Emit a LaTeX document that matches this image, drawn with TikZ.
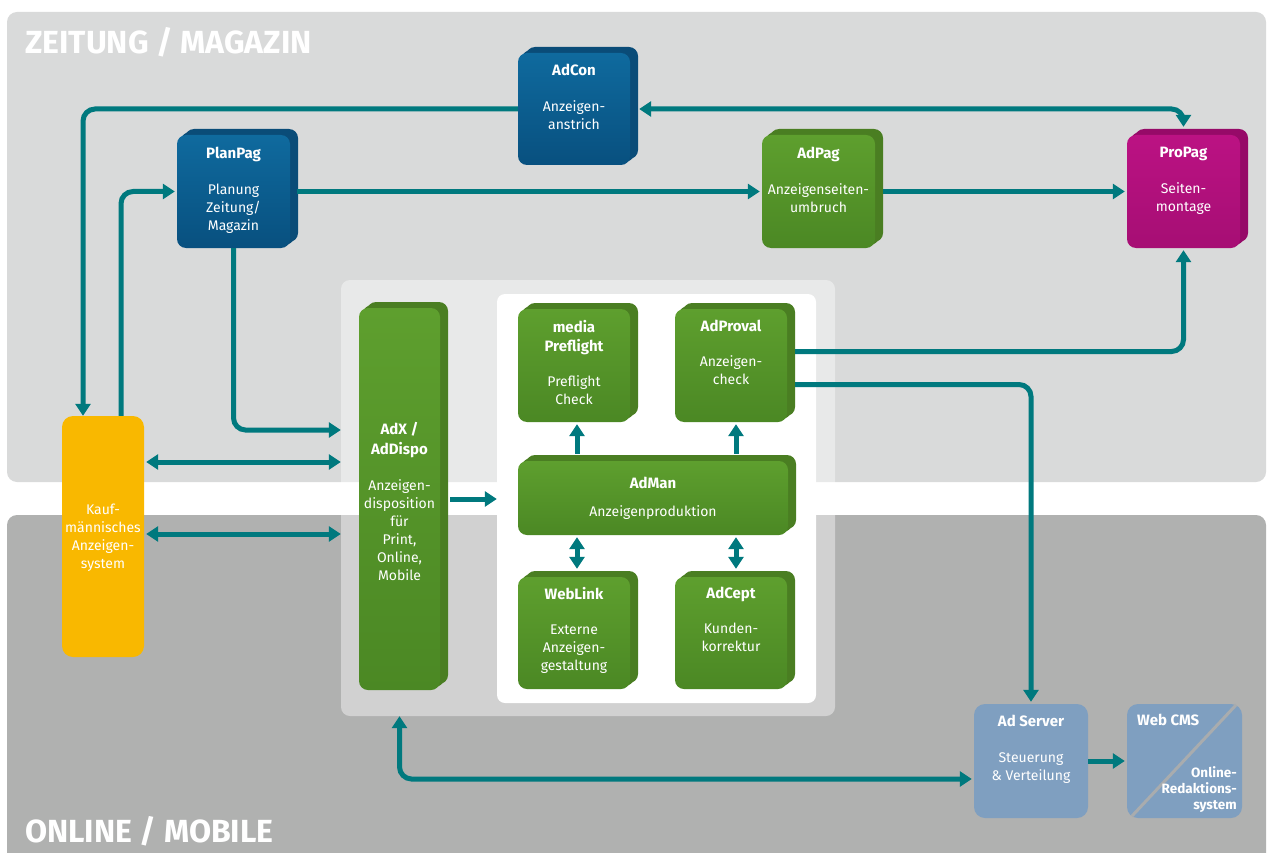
\documentclass[tikz,border=0pt]{standalone}
\usepackage{fontspec}
\setmainfont{Fira Sans}
\usetikzlibrary{arrows.meta,shadows}
\definecolor{conncol}{HTML}{00797E}
\definecolor{bgtop}{HTML}{D9DADA}
\definecolor{bgbot}{HTML}{B0B1B0}
\definecolor{bluetop}{HTML}{0F6A9E}
\definecolor{bluebot}{HTML}{08507F}
\definecolor{blueback}{HTML}{0A4C78}
\definecolor{greentop}{HTML}{5E9F2E}
\definecolor{greenbot}{HTML}{4B8824}
\definecolor{greenback}{HTML}{4A7E22}
\definecolor{magtop}{HTML}{BB1283}
\definecolor{magbot}{HTML}{A60E74}
\definecolor{magback}{HTML}{960A68}
\definecolor{kaufcol}{HTML}{F9B800}
\definecolor{srvcol}{HTML}{7F9FC0}
\definecolor{diagcol}{HTML}{A9ACAE}
\newcommand{\boxttl}[1]{{\bfseries\fontsize{15}{18}\selectfont #1}}
\tikzset{
  blk/.style={rectangle, rounded corners=9pt, inner sep=0pt, draw=none},
  blue3d/.style={blk, top color=bluetop, bottom color=bluebot,
    copy shadow={shadow xshift=8pt, shadow yshift=6pt, fill=blueback, draw=none},
    copy shadow={shadow xshift=4pt, shadow yshift=3pt, fill=blueback, draw=none}},
  green3d/.style={blk, top color=greentop, bottom color=greenbot,
    copy shadow={shadow xshift=8pt, shadow yshift=6pt, fill=greenback, draw=none},
    copy shadow={shadow xshift=4pt, shadow yshift=3pt, fill=greenback, draw=none}},
  mag3d/.style={blk, top color=magtop, bottom color=magbot,
    copy shadow={shadow xshift=8pt, shadow yshift=6pt, fill=magback, draw=none},
    copy shadow={shadow xshift=4pt, shadow yshift=3pt, fill=magback, draw=none}},
  flatbox/.style={blk, rounded corners=11pt},
  boxtext/.style={align=center, text=white, inner sep=0pt, anchor=north,
    font=\fontsize{14}{18}\selectfont},
  conn/.style={draw=conncol, line width=5pt, rounded corners=12pt},
  bigtitle/.style={text=white, inner sep=0pt, anchor=base west,
    font=\bfseries\fontsize{32}{36}\selectfont},
}
\begin{document}
\begin{tikzpicture}[x=1pt, y=-1pt, >={Triangle[length=12pt,width=15pt]}]
\useasboundingbox (0,0) rectangle (1271,853);
\fill[white] (0,0) rectangle (1271,853);
% background panels
\fill[bgtop, rounded corners=10pt] (7,12) rectangle (1266,482);
\fill[bgbot] (7,853) [rounded corners=10pt] -- (7,515) -- (1266,515) [sharp corners] -- (1266,853) -- cycle;
\node[bigtitle] (zeitung) at (25,54) {ZEITUNG / MAGAZIN};
\node[bigtitle] (online) at (25,842) {ONLINE / MOBILE};

% inner panels
\node[blk, fill=white, fill opacity=0.42, minimum width=494pt, minimum height=436pt] (panel) at (588,498) {};
\node[blk, rounded corners=8pt, fill=white, minimum width=319pt, minimum height=409pt] (wpanel) at (656.5,498.5) {};

% boxes
\node[blue3d, minimum width=112pt, minimum height=112pt] (adcon) at (574,109) {};
\node[blue3d, minimum width=113pt, minimum height=113pt] (planpag) at (233.5,191.5) {};
\node[green3d, minimum width=113pt, minimum height=113pt] (adpag) at (818.5,191.5) {};
\node[mag3d, minimum width=113pt, minimum height=113pt] (propag) at (1183.5,191.5) {};
\node[green3d, minimum width=81pt, minimum height=382pt] (adx) at (399.5,499) {};
\node[green3d, minimum width=112pt, minimum height=113pt] (preflight) at (574,365.5) {};
\node[green3d, minimum width=112pt, minimum height=113pt] (adproval) at (731,365.5) {};
\node[green3d, minimum width=270pt, minimum height=74pt] (adman) at (653,498) {};
\node[green3d, minimum width=112pt, minimum height=112pt] (weblink) at (574,633) {};
\node[green3d, minimum width=112pt, minimum height=112pt] (adcept) at (731,633) {};
\node[flatbox, fill=kaufcol, minimum width=82pt, minimum height=241pt] (kauf) at (103,536.5) {};
\node[flatbox, fill=srvcol, minimum width=114pt, minimum height=114pt] (adserver) at (1031,761) {};
\node[flatbox, fill=srvcol, minimum width=115pt, minimum height=114pt] (webcms) at (1184.5,761) {};
\draw[diagcol, line width=3pt] ([xshift=-6pt,yshift=-1pt]webcms.north east) -- ([xshift=5pt,yshift=2pt]webcms.south west);

% texts
\node[boxtext] (adcon-t) at (574,64) {\boxttl{AdCon}\\[18pt]Anzeigen-\\anstrich};
\node[boxtext] (planpag-t) at (233.5,147) {\boxttl{PlanPag}\\[18pt]Planung\\Zeitung/\\Magazin};
\node[boxtext] (adpag-t) at (818.5,147) {\boxttl{AdPag}\\[18pt]Anzeigenseiten-\\umbruch};
\node[boxtext] (propag-t) at (1183.5,147) {\boxttl{ProPag}\\[18pt]Seiten-\\montage};
\node[boxtext] (adx-t) at (399.5,422) {\boxttl{AdX /}\\[2pt]\boxttl{AdDispo}\\[18pt]Anzeigen-\\disposition\\für\\Print,\\Online,\\Mobile};
\node[boxtext] (preflight-t) at (574,320) {\boxttl{media}\\[1pt]\boxttl{Preflight}\\[17pt]Preflight\\Check};
\node[boxtext] (adproval-t) at (731,320) {\boxttl{AdProval}\\[17pt]Anzeigen-\\check};
\node[boxtext] (adman-t) at (653,477) {\boxttl{AdMan}\\[10pt]Anzeigenproduktion};
\node[boxtext] (weblink-t) at (574,587) {\boxttl{WebLink}\\[17pt]Externe\\Anzeigen-\\gestaltung};
\node[boxtext] (adcept-t) at (731,587) {\boxttl{AdCept}\\[17pt]Kunden-\\korrektur};
\node[boxtext] (kauf-t) at (103,504) {Kauf-\\männisches\\Anzeigen-\\system};
\node[boxtext] (adserver-t) at (1031,715) {\boxttl{Ad Server}\\[18pt]Steuerung\\\&~Verteilung};
\node[boxtext, anchor=north west] (webcms-t) at (1137,714) {\boxttl{Web CMS}};
\node[boxtext, anchor=north east, align=right, font=\bfseries\fontsize{13.5}{16}\selectfont] (webcms-t2) at (1237,766) {Online-\\Redaktions-\\system};

% connectors
\draw[conn,->] (adcon.west) -| ([xshift=-20pt]kauf.north);
\draw[conn,<->] ([xshift=9pt]adcon.east) -| ([yshift=8pt]propag.north);
\draw[conn,->] ([xshift=18pt]kauf.north) |- ([xshift=-2pt]planpag.west);
\draw[conn,->] ([xshift=7pt]planpag.east) -- ([xshift=-2pt]adpag.west);
\draw[conn,->] ([xshift=8pt]adpag.east) -- ([xshift=-2pt]propag.west);
\draw[conn,->] (planpag.south) |- ([yshift=68pt]panel.west);
\draw[conn,<->] ([xshift=2pt]kauf.east |- 0,462) -- (panel.west |- 0,462);
\draw[conn,<->] ([xshift=2pt]kauf.east |- 0,534) -- (panel.west |- 0,534);
\draw[conn,->] ([xshift=10pt]adx.east) -- (wpanel.west |- adx.east);
\draw[conn,->] ([xshift=3pt,yshift=7pt]adman.north -| preflight.south) -- ([xshift=3pt,yshift=-2pt]preflight.south);
\draw[conn,->] ([xshift=5pt,yshift=7pt]adman.north -| adproval.south) -- ([xshift=5pt,yshift=-2pt]adproval.south);
\draw[conn,<->] ([xshift=3pt,yshift=-2pt]adman.south -| weblink.north) -- ([xshift=3pt,yshift=8pt]weblink.north);
\draw[conn,<->] ([xshift=5pt,yshift=-2pt]adman.south -| adcept.north) -- ([xshift=5pt,yshift=8pt]adcept.north);
\draw[conn,->] ([xshift=8pt,yshift=14pt]adproval.east) -| ([yshift=-2pt]propag.south);
\draw[conn,->] ([xshift=8pt,yshift=-19pt]adproval.east) -| ([yshift=2pt]adserver.north);
\draw[conn,<->] (adx.south |- panel.south) |- ([xshift=-2pt,yshift=-18pt]adserver.west);
\draw[conn,->] (adserver.east) -- ([xshift=-2pt]webcms.west);
\end{tikzpicture}
\end{document}
